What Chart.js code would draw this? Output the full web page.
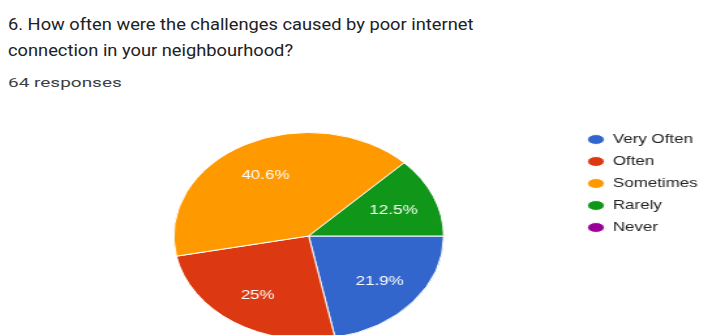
<!DOCTYPE html>
<html>
<head>
<meta charset="utf-8">
<script src="https://cdn.jsdelivr.net/npm/chart.js@4/dist/chart.umd.min.js"></script>
<style>
  html, body { margin: 0; padding: 0; background: #fff; overflow: hidden; }
  body { width: 701px; height: 335px; position: relative; }
  .title {
    position: absolute; left: 8px; top: 11px;
    font-family: Roboto, sans-serif; font-size: 17px; line-height: 26px;
    color: #202124; white-space: nowrap;
    transform: scaleX(1.075); transform-origin: 0 0;
  }
  .count {
    position: absolute; left: 8px; top: 74px;
    font-family: Roboto, sans-serif; font-size: 13px; line-height: 18px;
    color: #3c4043; white-space: nowrap;
    transform: scaleX(1.46); transform-origin: 0 0;
  }
  #wrap {
    position: absolute; left: 0; top: 112px;
    transform: scaleX(1.304); transform-origin: 0 0;
  }
</style>
</head>
<body>
<div class="title">6. How often were the challenges caused by poor internet<br>connection in your neighbourhood?</div>
<div class="count">64 responses</div>
<div id="wrap"><canvas id="pie" width="545" height="240"></canvas></div>

<script>
// survey answers (counts out of 64)
var answers = ['Very Often', 'Often', 'Sometimes', 'Rarely', 'Never'];
var counts = [14, 16, 26, 8, 0];
var colors = ['#3366cc', '#dc3912', '#ff9900', '#109618', '#990099'];

var total = counts.reduce(function (a, b) { return a + b; }, 0);

function pct(v) {
  var s = (v / total * 100).toFixed(1);
  if (s.slice(-2) === '.0') s = s.slice(0, -2);
  return s + '%';
}

// percentage text inside each slice
var sliceLabels = {
  id: 'sliceLabels',
  afterDatasetsDraw: function (chart) {
    var ctx = chart.ctx;
    var meta = chart.getDatasetMeta(0);
    ctx.save();
    ctx.fillStyle = '#ffffff';
    ctx.font = '13px Arial, "Liberation Sans", sans-serif';
    ctx.textAlign = 'center';
    ctx.textBaseline = 'middle';
    meta.data.forEach(function (arc, i) {
      var v = counts[i];
      if (!v) return;
      var p = arc.getProps(['x', 'y', 'startAngle', 'endAngle', 'outerRadius']);
      var mid = (p.startAngle + p.endAngle) / 2;
      var r = p.outerRadius * 0.68;
      ctx.fillText(pct(v), p.x + Math.cos(mid) * r, p.y + Math.sin(mid) * r + 1);
    });
    ctx.restore();
  }
};

// legend sits a bit higher than the top of the pie
var legendUp = {
  id: 'legendUp',
  afterLayout: function (chart) {
    chart.legend.top -= 8;
    chart.legend.bottom -= 8;
  }
};

var ctx = document.getElementById('pie').getContext('2d');
var chart = new Chart(ctx, {
  type: 'pie',
  data: {
    labels: answers,
    datasets: [{
      data: counts,
      backgroundColor: colors,
      borderColor: '#ffffff',
      borderWidth: 1,
      hoverOffset: 0
    }]
  },
  options: {
    responsive: false,
    animation: false,
    devicePixelRatio: 1,
    rotation: 90,
    layout: { padding: { left: 32, top: 20, bottom: 12, right: 0 } },
    plugins: {
      tooltip: { enabled: false },
      legend: {
        position: 'right',
        align: 'start',
        labels: {
          usePointStyle: true,
          pointStyle: 'circle',
          pointStyleWidth: 13,
          boxHeight: 7,
          padding: 9,
          color: '#222222',
          font: { family: 'Arial, "Liberation Sans", sans-serif', size: 13 }
        }
      }
    }
  },
  plugins: [sliceLabels, legendUp]
});
</script>
</body>
</html>
